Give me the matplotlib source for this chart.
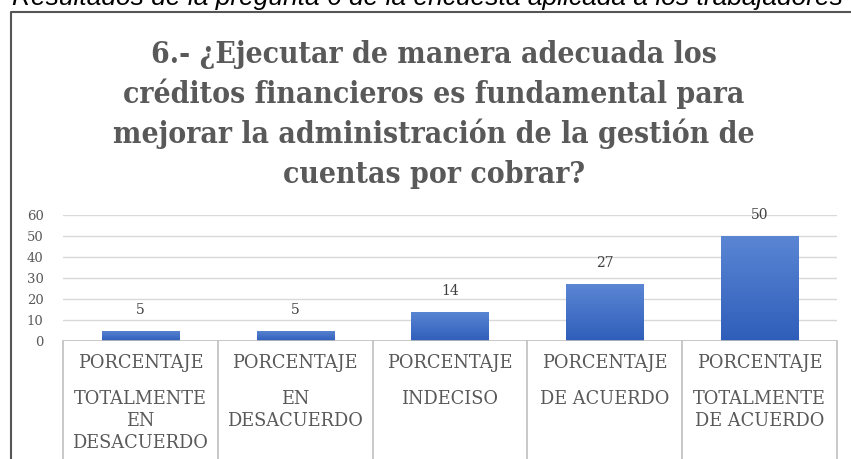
"""
Bar chart: results of survey question 6 (worker survey).
"""

import numpy as np
import matplotlib
matplotlib.use("Agg")
import matplotlib.pyplot as plt
from matplotlib.lines import Line2D
from matplotlib.colors import LinearSegmentedColormap
from matplotlib import transforms

# Data
caption = "Resultados de la pregunta 6 de la encuesta aplicada a los trabajadores"
title_lines = [
    "6.- ¿Ejecutar de manera adecuada los",
    "créditos financieros es fundamental para",
    "mejorar la administración de la gestión de",
    "cuentas por cobrar?",
]
label_prefix = "PORCENTAJE"
categories = [
    "TOTALMENTE\nEN\nDESACUERDO",
    "EN\nDESACUERDO",
    "INDECISO",
    "DE ACUERDO",
    "TOTALMENTE\nDE ACUERDO",
]
values = [5, 5, 14, 27, 50]
y_ticks = [0, 10, 20, 30, 40, 50, 60]

W, H = 851, 459
GRAY_TEXT = "#595959"
GRID = "#D9D9D9"
TABLE = "#BFBFBF"


def fy(px):
    """Pixel row (from top) -> figure fraction."""
    return 1 - px / H


fig = plt.figure(figsize=(W / 100, H / 100), dpi=100)
fig.patch.set_facecolor("white")

# Caption above the box (mostly cut off at the top edge, as in the source)
fig.text(12 / W, fy(5), caption, fontsize=19, style="italic",
         family="Liberation Sans", color="black", va="baseline", ha="left")

# Outer frame of the chart (left and top edges only visible)
fig.add_artist(Line2D([11 / W, 11 / W, 1.0], [0.0, fy(11.5), fy(11.5)],
                      transform=fig.transFigure, color="#555555", lw=1.5))

# Title
for i, line in enumerate(title_lines):
    fig.text(434 / W, fy(63 + 40 * i), line, fontsize=21.5, fontweight="bold",
             family="DejaVu Serif", fontstretch="condensed",
             color=GRAY_TEXT, ha="center", va="baseline")

# Plot area
ax = fig.add_axes([63 / W, (H - 341) / H, 774 / W, 126 / H])
x = np.arange(len(categories))
ax.set_yticks(y_ticks)
ax.set_xticks([])
for s in ax.spines.values():
    s.set_visible(False)
ax.tick_params(axis="y", length=0, pad=14, labelsize=9.5, labelcolor=GRAY_TEXT)
for lbl in ax.get_yticklabels():
    lbl.set_family("DejaVu Serif")
ax.yaxis.grid(True, color=GRID, lw=1)
ax.set_axisbelow(True)

# Bars with a vertical blue gradient
bars = ax.bar(x, values, width=0.5, color="none", edgecolor="none", zorder=2)
cmap = LinearSegmentedColormap.from_list("blu", ["#2F5EBA", "#5B86D4"])
grad = np.linspace(0, 1, 256).reshape(-1, 1)
for b in bars:
    x0, w, h = b.get_x(), b.get_width(), b.get_height()
    im = ax.imshow(grad, cmap=cmap, origin="lower", aspect="auto",
                   extent=[x0, x0 + w, 0, h], zorder=2)
    im.set_clip_path(b)
ax.set_xlim(-0.5, len(categories) - 0.5)
ax.set_ylim(0, 60)

# Value labels
for xi, v in zip(x, values):
    ax.annotate(str(v), (xi, v), xytext=(0, 15), textcoords="offset points",
                ha="center", va="center", fontsize=10, family="DejaVu Serif",
                color="#404040")

# Category table under the axis
ax.axhline(0, color=TABLE, lw=1.2, zorder=3)
tr_cell = transforms.blended_transform_factory(ax.transData, ax.transAxes)
for xb in np.arange(-0.5, len(categories)):
    ax.plot([xb, xb], [0, -1.0], transform=tr_cell, color=TABLE, lw=1.2,
            clip_on=False)

tr_lbl = transforms.blended_transform_factory(ax.transData, fig.transFigure)
for xi, cat in zip(x, categories):
    ax.text(xi, fy(363), label_prefix, transform=tr_lbl, ha="center",
            va="center", fontsize=12.8, family="DejaVu Serif", color=GRAY_TEXT)
    for j, part in enumerate(cat.split("\n")):
        ax.text(xi, fy(399 + 22 * j), part, transform=tr_lbl, ha="center",
                va="center", fontsize=12.8, family="DejaVu Serif",
                color=GRAY_TEXT)

fig.savefig("out.png", dpi=100)
